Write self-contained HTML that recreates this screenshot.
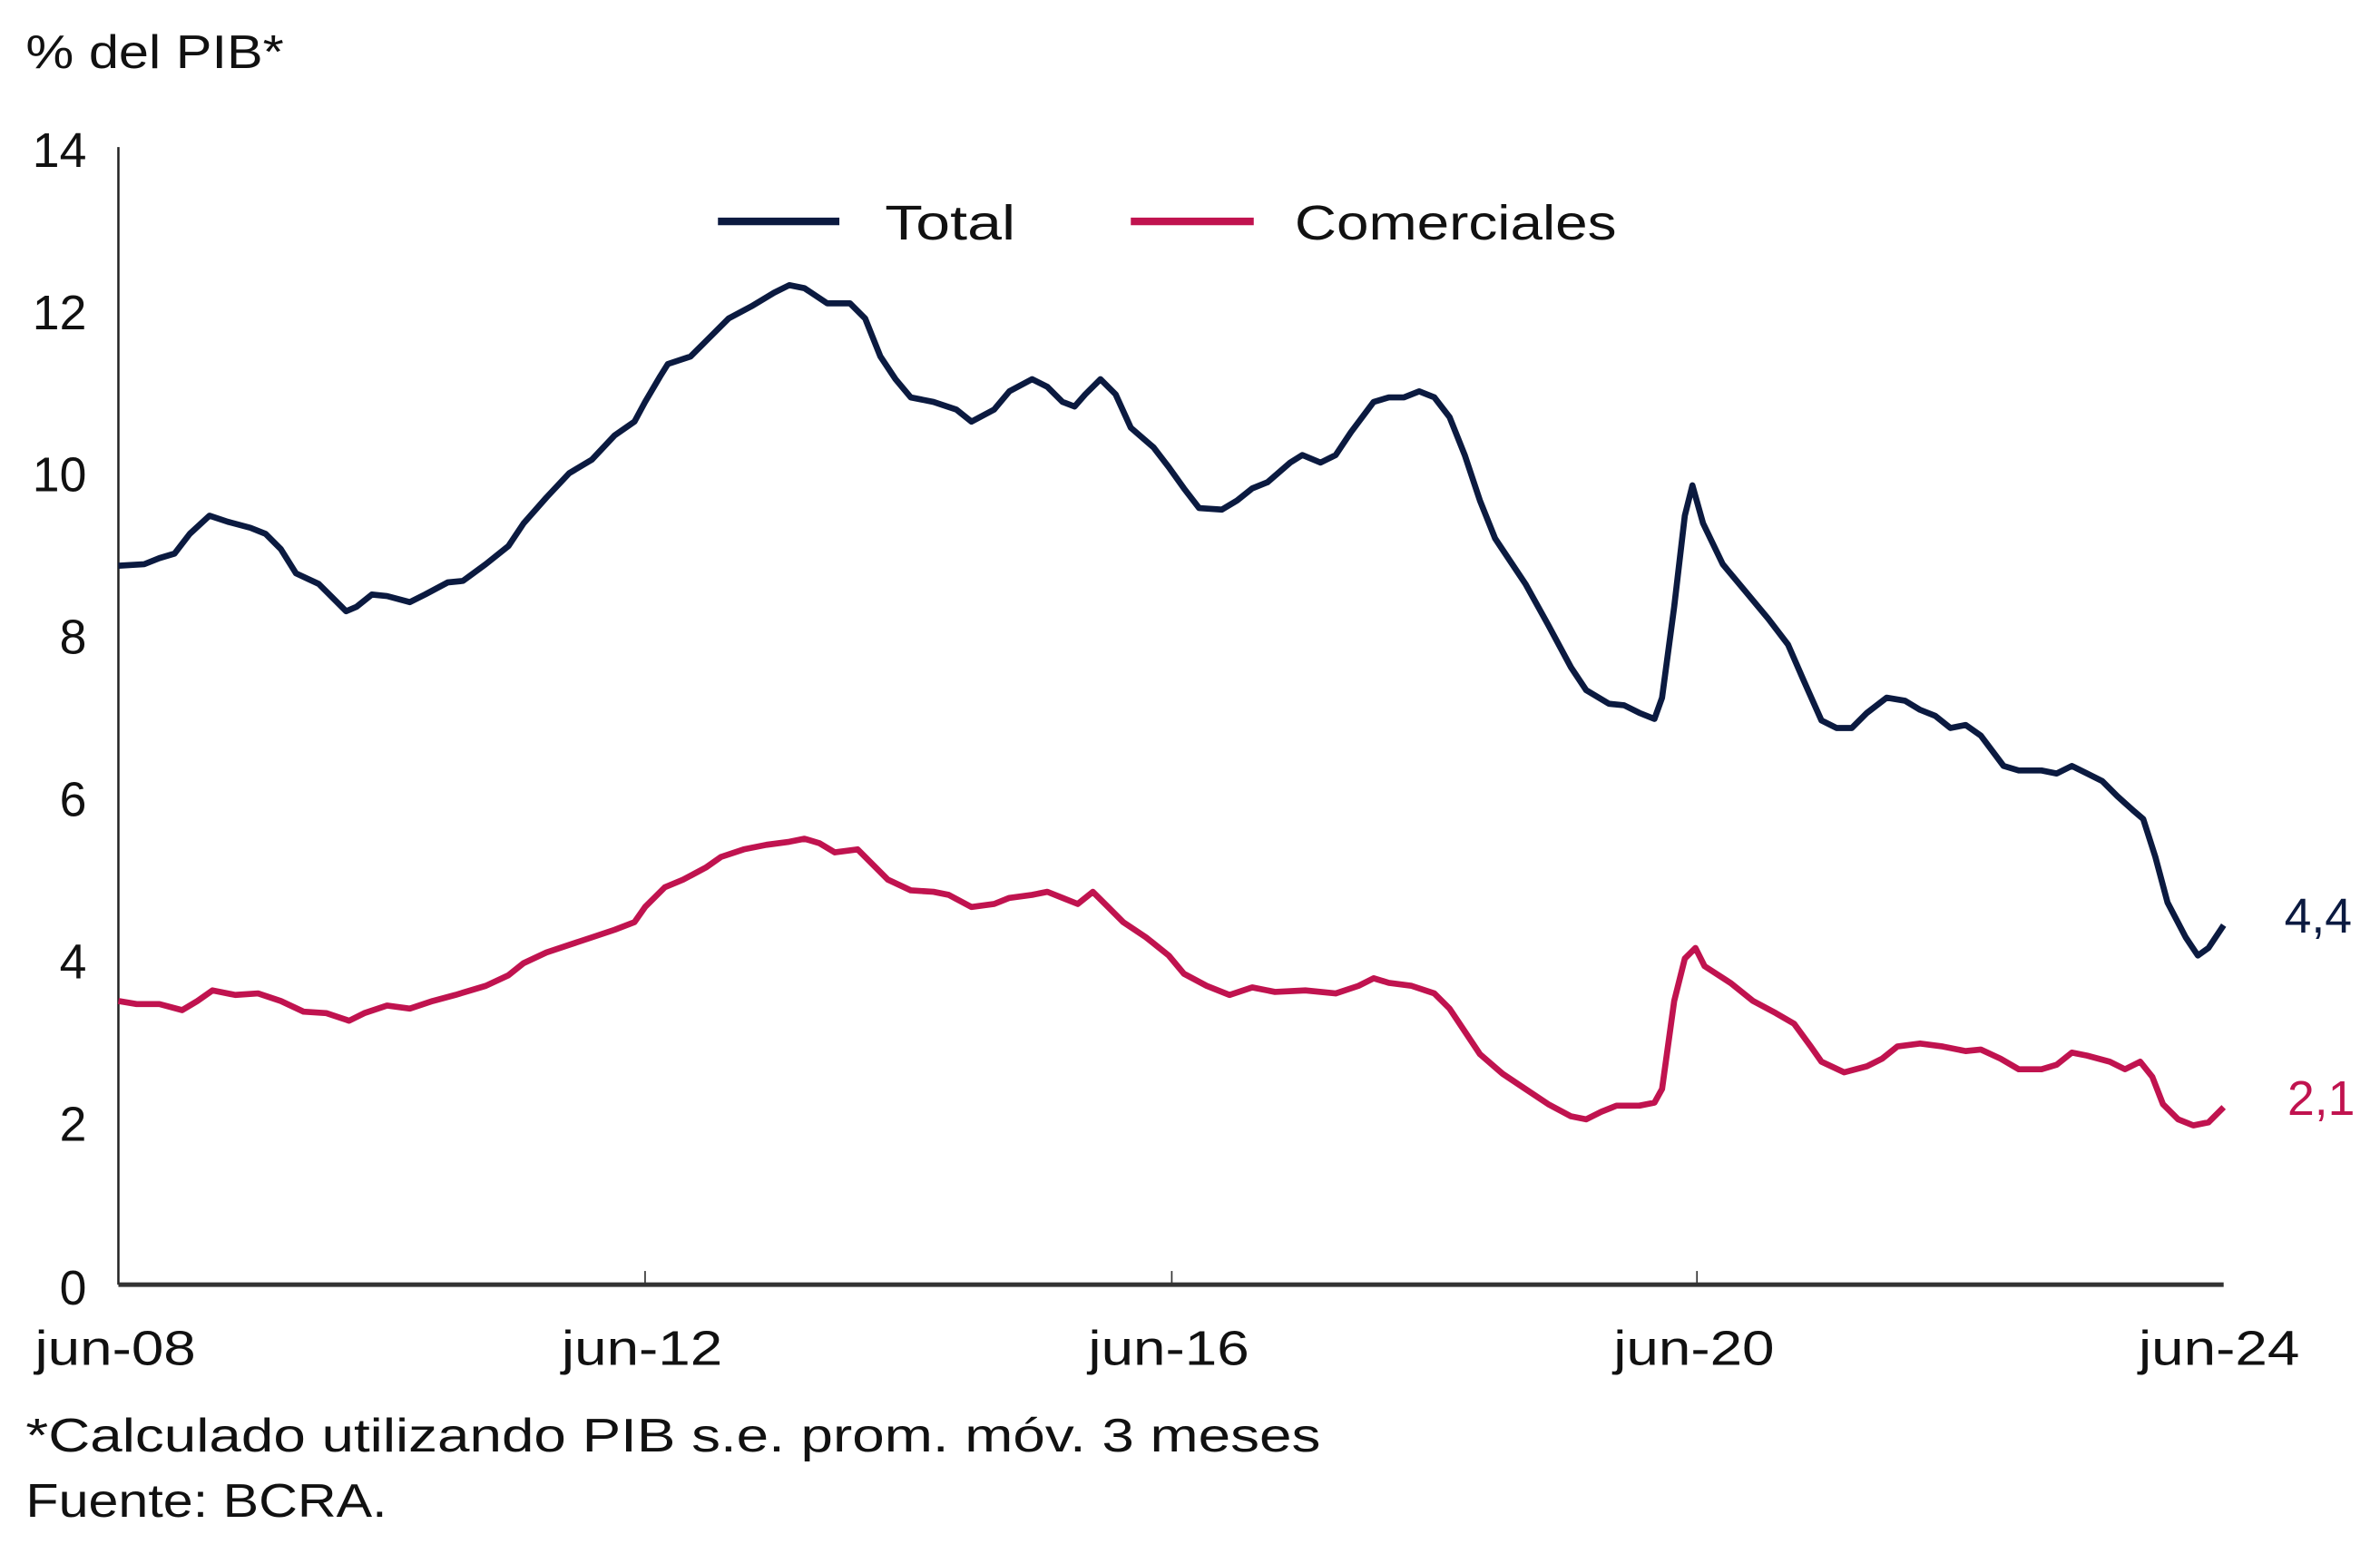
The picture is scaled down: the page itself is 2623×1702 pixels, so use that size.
<!DOCTYPE html>
<html><head><meta charset="utf-8"><style>
html,body{margin:0;padding:0;background:#fff}
svg{display:block}
text{font-family:"Liberation Sans Narrow","Liberation Sans",sans-serif;fill:#111}
</style></head><body>
<svg width="2623" height="1702" viewBox="0 0 1568 1018" preserveAspectRatio="none" xmlns="http://www.w3.org/2000/svg">
<rect width="1568" height="1018" fill="#fff"/>
<text x="17" y="45" font-size="31" textLength="170" lengthAdjust="spacingAndGlyphs">% del PIB*</text>
<g font-size="32" text-anchor="end">
<text x="57" y="110">14</text><text x="57" y="217">12</text><text x="57" y="324">10</text>
<text x="57" y="431">8</text><text x="57" y="538">6</text><text x="57" y="645">4</text>
<text x="57" y="752">2</text><text x="57" y="860">0</text>
</g>
<line x1="78" y1="97" x2="78" y2="847" stroke="#222" stroke-width="1.5"/>
<line x1="78" y1="847" x2="1465" y2="847" stroke="#333" stroke-width="3"/>
<line x1="425" y1="838" x2="425" y2="847" stroke="#333" stroke-width="1"/>
<line x1="772" y1="838" x2="772" y2="847" stroke="#333" stroke-width="1"/>
<line x1="1118" y1="838" x2="1118" y2="847" stroke="#333" stroke-width="1"/>
<g font-size="32" text-anchor="middle">
<text x="76" y="900" textLength="106" lengthAdjust="spacingAndGlyphs">jun-08</text>
<text x="423" y="900" textLength="106" lengthAdjust="spacingAndGlyphs">jun-12</text>
<text x="770" y="900" textLength="106" lengthAdjust="spacingAndGlyphs">jun-16</text>
<text x="1116" y="900" textLength="106" lengthAdjust="spacingAndGlyphs">jun-20</text>
<text x="1462" y="900" textLength="106" lengthAdjust="spacingAndGlyphs">jun-24</text>
</g>
<text x="17" y="957" font-size="31" textLength="853" lengthAdjust="spacingAndGlyphs">*Calculado utilizando PIB s.e. prom. móv. 3 meses</text>
<text x="17" y="1000" font-size="31" textLength="238" lengthAdjust="spacingAndGlyphs">Fuente: BCRA.</text>
<line x1="473" y1="146" x2="553" y2="146" stroke="#0b1a40" stroke-width="5"/>
<text x="583" y="158" font-size="32" textLength="86" lengthAdjust="spacingAndGlyphs">Total</text>
<line x1="745" y1="146" x2="826" y2="146" stroke="#c0134f" stroke-width="5"/>
<text x="853" y="158" font-size="32" textLength="212" lengthAdjust="spacingAndGlyphs">Comerciales</text>
<polyline fill="none" stroke="#0b1a40" stroke-width="4" stroke-linejoin="round" points="78,373 95,372 105,368 115,365 125,352 138,340 150,344 165,348 175,352 185,362 195,378 210,385 220,395 228,403 235,400 245,392 255,393 270,397 280,392 295,384 305,383 320,372 335,360 345,345 360,328 375,312 390,303 405,287 418,278 425,265 435,248 440,240 455,235 465,225 480,210 495,202 510,193 520,188 530,190 545,200 560,200 570,210 580,235 590,250 600,262 615,265 630,270 640,278 655,270 665,258 680,250 690,255 700,265 708,268 715,260 725,250 735,260 745,282 760,295 770,308 780,322 790,335 805,336 815,330 825,322 835,318 850,305 858,300 870,305 880,300 890,285 905,265 915,262 925,262 935,258 945,262 955,275 965,300 975,330 985,355 995,370 1005,385 1020,412 1035,440 1045,455 1060,464 1070,465 1080,470 1090,474 1095,460 1103,400 1110,340 1115,320 1122,345 1135,372 1150,390 1165,408 1178,425 1188,448 1200,475 1210,480 1220,480 1230,470 1243,460 1255,462 1265,468 1275,472 1285,480 1295,478 1305,485 1320,505 1330,508 1345,508 1355,510 1365,505 1375,510 1385,515 1395,525 1405,534 1412,540 1420,565 1428,595 1440,618 1448,630 1455,625 1465,610"/>
<polyline fill="none" stroke="#c0134f" stroke-width="4" stroke-linejoin="round" points="78,660 90,662 105,662 120,666 130,660 140,653 155,656 170,655 185,660 200,667 215,668 230,673 240,668 255,663 270,665 285,660 300,656 320,650 335,643 345,635 360,628 375,623 390,618 405,613 418,608 425,598 438,585 450,580 465,572 475,565 490,560 505,557 520,555 530,553 540,556 550,562 565,560 575,570 585,580 600,587 615,588 625,590 640,598 655,596 665,592 680,590 690,588 700,592 710,596 720,588 730,598 740,608 755,618 770,630 780,642 795,650 810,656 825,651 840,654 860,653 880,655 895,650 905,645 915,648 930,650 945,655 955,665 965,680 975,695 990,708 1005,718 1020,728 1035,736 1045,738 1055,733 1065,729 1080,729 1090,727 1095,718 1103,660 1110,632 1117,625 1123,637 1140,648 1155,660 1170,668 1182,675 1193,690 1200,700 1215,707 1230,703 1240,698 1250,690 1265,688 1280,690 1295,693 1305,692 1318,698 1330,705 1345,705 1355,702 1365,694 1375,696 1390,700 1400,705 1410,700 1418,710 1425,728 1435,738 1445,742 1455,740 1465,730"/>
<text x="1505" y="615" font-size="32" style="fill:#0b1a40">4,4</text>
<text x="1507" y="735" font-size="32" style="fill:#c0134f">2,1</text>
</svg>
</body></html>
